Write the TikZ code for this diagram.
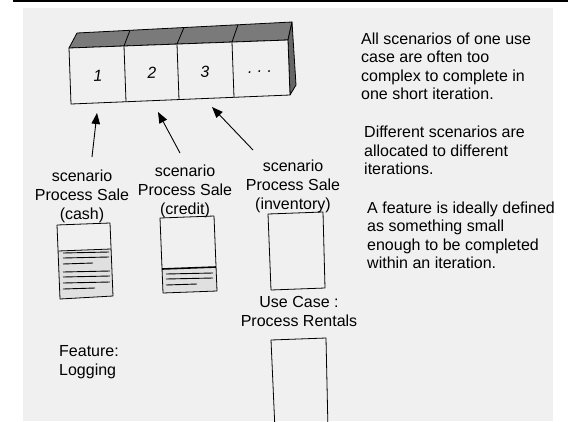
\documentclass[tikz,border=0pt]{standalone}
\usepackage{fontspec}
\setmainfont{Liberation Sans}
\usetikzlibrary{arrows.meta}
\definecolor{paper}{gray}{0.94}
\definecolor{topface}{gray}{0.48}
\definecolor{sideface}{gray}{0.40}
\definecolor{docgrey}{gray}{0.88}
\begin{document}
\begin{tikzpicture}[x=1pt,y=-1pt,
  txt/.style={font=\fontsize{16}{18.5}\selectfont, inner sep=0pt},
  lbl/.style={font=\fontsize{16}{19}\selectfont, inner sep=0pt, align=center, anchor=north},
  num/.style={font=\fontsize{16}{18}\selectfont\itshape, inner sep=0pt, rotate=2},
  ptr/.style={line width=0.9pt, -{Triangle[length=11pt,width=8.5pt]}},
  edge/.style={line width=0.8pt, line join=round},
  sheet/.style={line width=0.8pt, line join=round},
  rule/.style={line width=0.9pt},
  thickrule/.style={line width=1.6pt}]
\useasboundingbox (0,0) rectangle (568,421);
\fill[white] (0,0) rectangle (568,421);
\fill[paper] (23,8) rectangle (553,421);
\fill[black] (13,0) rectangle (568,1.8);

% ---- the row of scenario boxes ----
\coordinate (ftl) at (69,48);
\coordinate (ftr) at (288,40);
\coordinate (fbr) at (290,95);
\coordinate (fbl) at (71,104);
\coordinate (btl) at (77,33);
\coordinate (btr) at (292,22);
\coordinate (bbr) at (296,85);
\filldraw[edge, fill=topface] (ftl) -- (btl) -- (btr) -- (ftr) -- cycle;
\filldraw[edge, fill=sideface] (ftr) -- (btr) -- (bbr) -- (fbr) -- cycle;
\filldraw[edge, fill=paper] (ftl) -- (ftr) -- (fbr) -- (fbl) -- cycle;
\draw[edge] (130,30.3) -- (124,46) -- (126,101.7);
\draw[edge] (184,27.5) -- (177,44.1) -- (179,99.6);
\draw[edge] (238,24.8) -- (232,42) -- (234,97.3);
\node[num] (n1) at (98,76) {1};
\node[num] (n2) at (152,73) {2};
\node[num] (n3) at (205,72) {3};
\node[num] (n4) at (260,72) {.\,\,.\,\,.};

% ---- scenario labels and their pointers ----
\node[lbl] (l1) at (82,170) {scenario\\Process Sale\\(cash)};
\node[lbl] (l2) at (185,165) {scenario\\Process Sale\\(credit)};
\node[lbl] (l3) at (293,159.5) {scenario\\Process Sale\\(inventory)};
\coordinate (t1) at (92,157);  \coordinate (h1) at (97,113);
\coordinate (t2) at (180,153); \coordinate (h2) at (158,112);
\coordinate (t3) at (253,150); \coordinate (h3) at (212,107);
\draw[ptr] (t1) -- (h1);
\draw[ptr] (t2) -- (h2);
\draw[ptr] (t3) -- (h3);

% ---- scenario documents ----
\fill[docgrey] (58,251) -- (111,249) -- (113,296) -- (60,299) -- cycle;
\draw[sheet] (57,225) -- (110,223) -- (113,296) -- (60,299) -- cycle;
\draw[sheet] (58,251) -- (111,249);
\foreach \y/\e in {253/109, 258/109, 264/93, 272/110, 277/110, 283/110, 289/95}
  \draw[rule] (63,\y) -- (\e,\y-1);

\fill[docgrey] (162,269) -- (216,267) -- (217,291) -- (163,293) -- cycle;
\draw[sheet] (160,218) -- (214,216) -- (217,291) -- (163,293) -- cycle;
\draw[thickrule] (162,269) -- (216,267);
\foreach \y/\e in {274/213, 279/213, 285/197}
  \draw[rule] (166,\y) -- (\e,\y-1);

\draw[sheet] (268,214) -- (323,212) -- (325,288) -- (271,290) -- cycle;

% ---- use case ----
\node[lbl] (uc) at (299,296.5) {Use Case :\\Process Rentals};
\begin{scope}
\clip (0,0) rectangle (568,421);
\draw[sheet] (275,430) -- (271,340) -- (326,338) -- (328,430);
\end{scope}

\node[txt, font=\fontsize{16}{19}\selectfont, align=left, anchor=north west] (feat) at (59,345.5) {Feature:\\Logging};

% ---- notes ----
\node[txt, align=left, anchor=north west] (p1) at (361,32.5)
  {All scenarios of one use\\case are often too\\complex to complete in\\one short iteration.};
\node[txt, align=left, anchor=north west] (p2) at (364,126)
  {Different scenarios are\\allocated to different\\iterations.};
\node[txt, align=left, anchor=north west] (p3) at (367,201.5)
  {A feature is ideally defined\\as something small\\enough to be completed\\within an iteration.};
\end{tikzpicture}
\end{document}
